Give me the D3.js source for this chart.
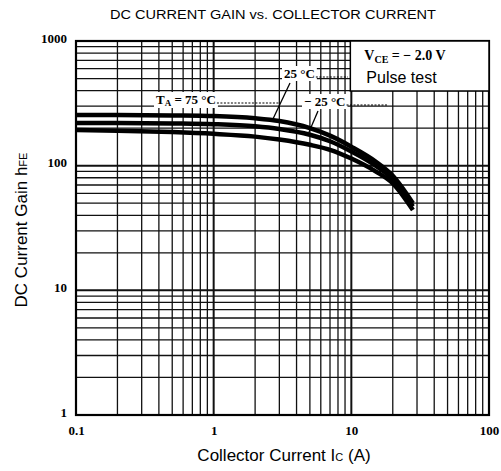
<!DOCTYPE html>
<html>
<head>
<meta charset="utf-8">
<script src="https://cdn.jsdelivr.net/npm/d3@7"></script>
<style>
  html, body { margin: 0; padding: 0; background: #fff; }
  svg { display: block; }
</style>
</head>
<body>
<div id="chart"></div>
<script>
// hFE vs Ic, three ambient temperatures
const currents = [0.1, 0.2, 0.5, 1, 2, 3, 5, 7, 10, 15, 20, 28];
const gain75 = [255, 255, 253, 250, 240, 228, 200, 174, 142, 108, 83, 50];
const gain25 = [220, 220, 218, 215, 207, 197, 177, 157, 130, 100, 78, 47];
const gainMinus25 = [193, 191, 186, 180, 171, 162, 147, 134, 114, 90, 72, 44];

const xTickLabels = [0.1, 1, 10, 100];
const yTickLabels = [1, 10, 100, 1000];

const W = 501, H = 471;
const margin = { top: 41, right: 12, bottom: 56, left: 76 };

const svg = d3.select('#chart').append('svg')
  .attr('width', W)
  .attr('height', H);

const x = d3.scaleLog().domain([0.1, 100]).range([margin.left, W - margin.right]);
const y = d3.scaleLog().domain([1, 1000]).range([H - margin.bottom, margin.top]);

const serif = '"Liberation Serif", "DejaVu Serif", serif';
const sans = '"Liberation Sans", Arial, sans-serif';

// grid
const grid = svg.append('g').attr('stroke', '#111');
x.ticks().forEach(v => {
  const major = Math.abs(Math.log10(v) - Math.round(Math.log10(v))) < 1e-6;
  grid.append('line')
    .attr('x1', x(v)).attr('x2', x(v))
    .attr('y1', y(1)).attr('y2', y(1000))
    .attr('stroke-width', major ? 2 : 1.3);
});
y.ticks().forEach(v => {
  const major = Math.abs(Math.log10(v) - Math.round(Math.log10(v))) < 1e-6;
  grid.append('line')
    .attr('x1', x(0.1)).attr('x2', x(100))
    .attr('y1', y(v)).attr('y2', y(v))
    .attr('stroke-width', major ? 2 : 1.3);
});

// frame
svg.append('rect')
  .attr('x', x(0.1)).attr('y', y(1000))
  .attr('width', x(100) - x(0.1)).attr('height', y(1) - y(1000))
  .attr('fill', 'none').attr('stroke', '#000').attr('stroke-width', 2.2);

// axes labels
svg.append('g')
  .attr('transform', `translate(0,${y(1) + 8})`)
  .call(d3.axisBottom(x).tickValues(xTickLabels).tickSize(0).tickFormat(d => d === 0.1 ? '0.1' : String(d)))
  .call(g => g.select('.domain').remove())
  .call(g => g.selectAll('.tick text')
    .attr('fill', '#000').attr('font-family', serif).attr('font-weight', 'bold').attr('font-size', 13));

svg.append('g')
  .attr('transform', `translate(${x(0.1) - 6},0)`)
  .call(d3.axisLeft(y).tickValues(yTickLabels).tickSize(0).tickFormat(d => String(d)))
  .call(g => g.select('.domain').remove())
  .call(g => g.selectAll('.tick text')
    .attr('fill', '#000').attr('font-family', serif).attr('font-weight', 'bold').attr('font-size', 13)
    .attr('dy', '0.1em'));

// curves
const line = d3.line()
  .x(d => x(d[0]))
  .y(d => y(d[1]))
  .curve(d3.curveMonotoneX);

[gain75, gain25, gainMinus25].forEach(series => {
  svg.append('path')
    .datum(currents.map((c, i) => [c, series[i]]))
    .attr('fill', 'none')
    .attr('stroke', '#000')
    .attr('stroke-width', 4.5)
    .attr('stroke-linecap', 'butt')
    .attr('d', line);
});

// condition box
const boxX = x(10) - 1, boxY = y(1000);
svg.append('rect')
  .attr('x', boxX).attr('y', boxY)
  .attr('width', x(100) - boxX).attr('height', 50)
  .attr('fill', '#fff').attr('stroke', '#000').attr('stroke-width', 1.5);
const vce = svg.append('text')
  .attr('x', boxX + 14).attr('y', boxY + 19)
  .attr('font-family', serif).attr('font-weight', 'bold').attr('font-size', 14);
vce.append('tspan').text('V');
vce.append('tspan').attr('font-size', 10).attr('dy', 3).text('CE');
vce.append('tspan').attr('dy', -3).text(' = \u2212 2.0  V');
svg.append('text')
  .attr('x', boxX + 16).attr('y', boxY + 42)
  .attr('font-family', sans).attr('font-size', 16)
  .text('Pulse test');

// curve annotations
function tempLabel(tx, ty, parts, dotsTo) {
  const t = svg.append('text')
    .attr('x', tx).attr('y', ty)
    .attr('font-family', serif).attr('font-weight', 'bold').attr('font-size', 13);
  parts.forEach(p => {
    const s = t.append('tspan').text(p.text);
    if (p.size) s.attr('font-size', p.size);
    if (p.dy) s.attr('dy', p.dy);
  });
  const bb = t.node().getBBox();
  svg.insert('rect', () => t.node())
    .attr('x', bb.x - 2).attr('y', bb.y)
    .attr('width', bb.width + 4).attr('height', bb.height)
    .attr('fill', '#fff');
  if (dotsTo) {
    svg.append('line')
      .attr('x1', bb.x + bb.width + 1).attr('x2', dotsTo)
      .attr('y1', ty - 1).attr('y2', ty - 1)
      .attr('stroke', '#000').attr('stroke-width', 1)
      .attr('stroke-dasharray', '2,1.5');
  }
}

tempLabel(156, 104, [
  { text: 'T' }, { text: 'A', size: 9, dy: 2 }, { text: ' = 75 \u00b0C', dy: -2 }
], 280);
tempLabel(284, 78, [{ text: '25 \u00b0C' }], 348);
tempLabel(304, 106, [{ text: '\u2212 25 \u00b0C' }], 388);

// leaders
svg.append('line')
  .attr('x1', 290).attr('y1', 83).attr('x2', 272).attr('y2', 121)
  .attr('stroke', '#000').attr('stroke-width', 1.3);
svg.append('line')
  .attr('x1', 318).attr('y1', 111).attr('x2', 309).attr('y2', 132)
  .attr('stroke', '#000').attr('stroke-width', 1.3);

// title
svg.append('text')
  .attr('x', 273).attr('y', 19)
  .attr('text-anchor', 'middle')
  .attr('font-family', sans).attr('font-size', 12)
  .attr('textLength', 326).attr('lengthAdjust', 'spacingAndGlyphs')
  .text('DC CURRENT GAIN vs. COLLECTOR CURRENT');

// axis titles
const xt = svg.append('text')
  .attr('x', 284).attr('y', 461)
  .attr('text-anchor', 'middle')
  .attr('font-family', sans).attr('font-size', 17);
xt.append('tspan').text('Collector Current  I');
xt.append('tspan').attr('font-size', 11).text('C');
xt.append('tspan').text('  (A)');

const yt = svg.append('text')
  .attr('transform', `translate(27,${230}) rotate(-90)`)
  .attr('text-anchor', 'middle')
  .attr('font-family', sans).attr('font-size', 17);
yt.append('tspan').text('DC Current Gain  h');
yt.append('tspan').attr('font-size', 11).text('FE');
</script>
</body>
</html>
